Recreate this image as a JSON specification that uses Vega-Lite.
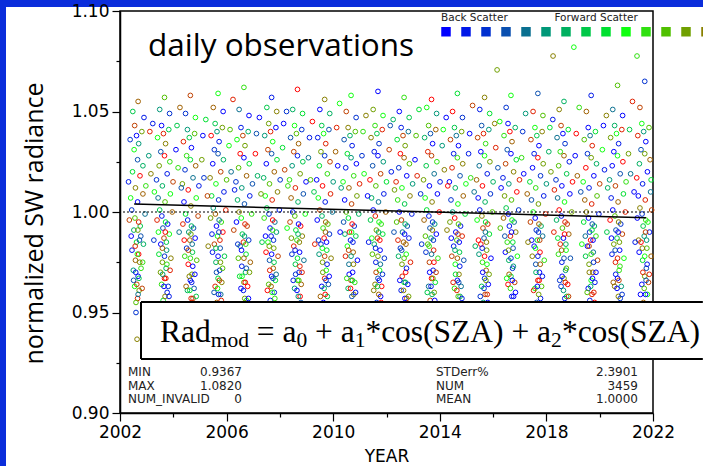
{
  "$schema": "https://vega.github.io/schema/vega-lite/v6.json",
  "background": "white",
  "padding": 0,
  "spacing": 0,
  "bounds": "flush",
  "config": {
    "view": {"stroke": null},
    "axis": {"grid": false, "labelFont": "DejaVu Sans", "labelFontSize": 17, "labelColor": "black", "tickColor": "black", "domainColor": "black", "titleColor": "black", "domainWidth": 1.5, "tickWidth": 1.2, "labelPadding": 3}
  },
  "vconcat": [
    {
      "width": 703, "height": 7,
      "view": {"fill": "#0b2ddb", "stroke": null},
      "data": {"values": [{}]},
      "mark": {"type": "point", "opacity": 0},
      "encoding": {}
    },
    {
      "spacing": 114,
      "bounds": "flush",
      "hconcat": [
        {
          "width": 6, "height": 459,
          "view": {"fill": "#0b2ddb", "stroke": null},
          "data": {"values": [{}]},
          "mark": {"type": "point", "opacity": 0},
          "encoding": {}
        },
        {
          "spacing": 3,
          "bounds": "flush",
          "vconcat": [
            {
              "width": 1, "height": 1,
              "data": {"values": [{}]},
              "mark": {"type": "point", "opacity": 0},
              "encoding": {}
            },
            {
              "width": 533, "height": 402,
              "view": {"stroke": "black", "strokeWidth": 1.5},
              "layer": [
                {
                  "data": {"values": [
{"year":2002.64,"rad":0.9367,"bin":13},{"year":2002.6,"rad":0.95,"bin":2},{"year":2002.66,"rad":0.957,"bin":16},{"year":2002.55,"rad":0.963,"bin":9},{"year":2002.68,"rad":0.968,"bin":0},{"year":2002.72,"rad":0.961,"bin":12},{"year":2002.5,"rad":0.971,"bin":5},{"year":2002.58,"rad":0.976,"bin":14},{"year":2002.45,"rad":0.981,"bin":1},{"year":2002.62,"rad":0.985,"bin":8},{"year":2002.7,"rad":0.979,"bin":17},{"year":2002.78,"rad":0.988,"bin":3},{"year":2002.85,"rad":0.975,"bin":10},{"year":2002.52,"rad":0.991,"bin":6},{"year":2002.35,"rad":0.996,"bin":15},{"year":2002.44,"rad":1.001,"bin":2},{"year":2002.56,"rad":0.997,"bin":11},{"year":2002.66,"rad":1.005,"bin":0},{"year":2002.76,"rad":0.993,"bin":7},{"year":2002.86,"rad":1.009,"bin":14},{"year":2002.94,"rad":0.999,"bin":4},{"year":2002.4,"rad":1.007,"bin":9},{"year":2002.7,"rad":0.995,"bin":16},{"year":2002.32,"rad":1.015,"bin":1},{"year":2002.47,"rad":1.02,"bin":8},{"year":2002.58,"rad":1.012,"bin":13},{"year":2002.66,"rad":1.026,"bin":3},{"year":2002.75,"rad":1.018,"bin":17},{"year":2002.86,"rad":1.023,"bin":6},{"year":2002.97,"rad":1.013,"bin":10},{"year":2002.53,"rad":1.031,"bin":9},{"year":2002.38,"rad":1.036,"bin":2},{"year":2002.55,"rad":1.043,"bin":15},{"year":2002.7,"rad":1.034,"bin":5},{"year":2002.82,"rad":1.04,"bin":12},{"year":2002.62,"rad":1.038,"bin":0},{"year":2002.48,"rad":1.05,"bin":7},{"year":2002.68,"rad":1.055,"bin":14},{"year":2002.9,"rad":1.047,"bin":1},
{"year":2002.6,"rad":0.955,"bin":11},{"year":2002.68,"rad":0.959,"bin":4},{"year":2002.63,"rad":0.964,"bin":15},{"year":2002.71,"rad":0.967,"bin":7},{"year":2002.59,"rad":0.97,"bin":1},{"year":2002.74,"rad":0.975,"bin":13},{"year":2002.65,"rad":0.979,"bin":9},{"year":2002.57,"rad":0.983,"bin":16},{"year":2002.73,"rad":0.986,"bin":3},{"year":2002.67,"rad":0.991,"bin":12},
{"year":2002.51,"rad":0.966,"bin":3},{"year":2002.79,"rad":0.972,"bin":10},{"year":2002.83,"rad":0.962,"bin":15},{"year":2002.42,"rad":0.988,"bin":0},{"year":2002.88,"rad":0.984,"bin":6},
{"year":2003.63,"rad":0.947,"bin":4},{"year":2003.71,"rad":0.953,"bin":14},{"year":2003.77,"rad":0.96,"bin":1},{"year":2003.56,"rad":0.964,"bin":10},{"year":2003.67,"rad":0.967,"bin":17},{"year":2003.73,"rad":0.972,"bin":6},{"year":2003.81,"rad":0.963,"bin":2},{"year":2003.59,"rad":0.975,"bin":12},{"year":2003.46,"rad":0.979,"bin":8},{"year":2003.53,"rad":0.984,"bin":0},{"year":2003.65,"rad":0.987,"bin":15},{"year":2003.75,"rad":0.981,"bin":5},{"year":2003.85,"rad":0.989,"bin":9},{"year":2003.91,"rad":0.977,"bin":13},{"year":2003.61,"rad":0.992,"bin":3},{"year":2003.39,"rad":0.996,"bin":16},{"year":2003.49,"rad":1.001,"bin":7},{"year":2003.57,"rad":0.998,"bin":1},{"year":2003.69,"rad":1.005,"bin":11},{"year":2003.79,"rad":0.994,"bin":0},{"year":2003.89,"rad":1.009,"bin":9},{"year":2003.96,"rad":1.0,"bin":14},{"year":2003.43,"rad":1.007,"bin":4},{"year":2003.71,"rad":0.995,"bin":8},{"year":2003.37,"rad":1.016,"bin":2},{"year":2003.47,"rad":1.023,"bin":12},{"year":2003.59,"rad":1.013,"bin":6},{"year":2003.67,"rad":1.028,"bin":17},{"year":2003.77,"rad":1.019,"bin":1},{"year":2003.87,"rad":1.025,"bin":10},{"year":2003.99,"rad":1.015,"bin":15},{"year":2003.53,"rad":1.03,"bin":3},{"year":2003.41,"rad":1.037,"bin":9},{"year":2003.56,"rad":1.043,"bin":0},{"year":2003.71,"rad":1.034,"bin":13},{"year":2003.83,"rad":1.041,"bin":7},{"year":2003.63,"rad":1.039,"bin":16},{"year":2003.49,"rad":1.051,"bin":5},{"year":2003.67,"rad":1.057,"bin":11},{"year":2003.86,"rad":1.049,"bin":2},
{"year":2003.08,"rad":1.028,"bin":5},{"year":2003.16,"rad":1.019,"bin":13},{"year":2003.23,"rad":1.044,"bin":1},{"year":2003.29,"rad":1.01,"bin":9},{"year":2003.12,"rad":1.04,"bin":16},
{"year":2003.62,"rad":0.956,"bin":8},{"year":2003.69,"rad":0.958,"bin":13},{"year":2003.65,"rad":0.963,"bin":0},{"year":2003.72,"rad":0.967,"bin":16},{"year":2003.6,"rad":0.969,"bin":5},{"year":2003.76,"rad":0.974,"bin":10},{"year":2003.67,"rad":0.978,"bin":2},{"year":2003.59,"rad":0.982,"bin":14},{"year":2003.74,"rad":0.985,"bin":7},{"year":2003.7,"rad":0.99,"bin":17},
{"year":2003.52,"rad":0.97,"bin":12},{"year":2003.84,"rad":0.958,"bin":1},{"year":2003.88,"rad":0.971,"bin":16},{"year":2003.44,"rad":0.99,"bin":9},{"year":2003.27,"rad":0.986,"bin":2},
{"year":2004.6,"rad":0.943,"bin":9},{"year":2004.68,"rad":0.951,"bin":1},{"year":2004.74,"rad":0.957,"bin":15},{"year":2004.53,"rad":0.961,"bin":6},{"year":2004.64,"rad":0.966,"bin":0},{"year":2004.7,"rad":0.969,"bin":12},{"year":2004.78,"rad":0.962,"bin":3},{"year":2004.56,"rad":0.974,"bin":17},{"year":2004.43,"rad":0.978,"bin":10},{"year":2004.5,"rad":0.982,"bin":2},{"year":2004.62,"rad":0.986,"bin":14},{"year":2004.72,"rad":0.98,"bin":7},{"year":2004.82,"rad":0.987,"bin":0},{"year":2004.88,"rad":0.976,"bin":11},{"year":2004.58,"rad":0.99,"bin":5},{"year":2004.36,"rad":0.994,"bin":16},{"year":2004.46,"rad":0.999,"bin":8},{"year":2004.54,"rad":0.996,"bin":1},{"year":2004.66,"rad":1.003,"bin":13},{"year":2004.76,"rad":0.992,"bin":3},{"year":2004.86,"rad":1.007,"bin":9},{"year":2004.93,"rad":0.998,"bin":15},{"year":2004.4,"rad":1.005,"bin":0},{"year":2004.68,"rad":0.993,"bin":6},{"year":2004.34,"rad":1.014,"bin":12},{"year":2004.44,"rad":1.021,"bin":2},{"year":2004.56,"rad":1.011,"bin":17},{"year":2004.64,"rad":1.026,"bin":8},{"year":2004.74,"rad":1.017,"bin":4},{"year":2004.84,"rad":1.023,"bin":14},{"year":2004.96,"rad":1.013,"bin":1},{"year":2004.5,"rad":1.028,"bin":10},{"year":2004.38,"rad":1.035,"bin":16},{"year":2004.53,"rad":1.041,"bin":5},{"year":2004.68,"rad":1.032,"bin":0},{"year":2004.8,"rad":1.039,"bin":11},{"year":2004.6,"rad":1.037,"bin":7},{"year":2004.46,"rad":1.049,"bin":2},{"year":2004.64,"rad":1.058,"bin":15},{"year":2004.83,"rad":1.047,"bin":9},
{"year":2004.1,"rad":1.031,"bin":0},{"year":2004.18,"rad":1.022,"bin":10},{"year":2004.25,"rad":1.052,"bin":14},{"year":2004.3,"rad":1.012,"bin":3},{"year":2004.14,"rad":1.043,"bin":7},
{"year":2004.59,"rad":0.954,"bin":3},{"year":2004.67,"rad":0.957,"bin":16},{"year":2004.62,"rad":0.961,"bin":8},{"year":2004.69,"rad":0.965,"bin":1},{"year":2004.6,"rad":0.968,"bin":13},{"year":2004.73,"rad":0.973,"bin":0},{"year":2004.64,"rad":0.977,"bin":10},{"year":2004.56,"rad":0.981,"bin":15},{"year":2004.71,"rad":0.984,"bin":4},{"year":2004.66,"rad":0.989,"bin":12},
{"year":2004.48,"rad":0.963,"bin":14},{"year":2004.81,"rad":0.969,"bin":0},{"year":2004.86,"rad":0.958,"bin":7},{"year":2004.41,"rad":0.986,"bin":17},{"year":2004.22,"rad":0.99,"bin":4},
{"year":2005.64,"rad":0.946,"bin":0},{"year":2005.72,"rad":0.954,"bin":11},{"year":2005.78,"rad":0.959,"bin":4},{"year":2005.57,"rad":0.963,"bin":16},{"year":2005.68,"rad":0.967,"bin":8},{"year":2005.74,"rad":0.971,"bin":2},{"year":2005.82,"rad":0.965,"bin":13},{"year":2005.6,"rad":0.975,"bin":6},{"year":2005.47,"rad":0.98,"bin":1},{"year":2005.54,"rad":0.984,"bin":15},{"year":2005.66,"rad":0.988,"bin":9},{"year":2005.76,"rad":0.982,"bin":3},{"year":2005.86,"rad":0.99,"bin":17},{"year":2005.92,"rad":0.978,"bin":7},{"year":2005.62,"rad":0.993,"bin":0},{"year":2005.4,"rad":0.997,"bin":12},{"year":2005.5,"rad":1.002,"bin":5},{"year":2005.58,"rad":0.999,"bin":14},{"year":2005.7,"rad":1.006,"bin":2},{"year":2005.8,"rad":0.995,"bin":10},{"year":2005.9,"rad":1.01,"bin":1},{"year":2005.97,"rad":1.001,"bin":16},{"year":2005.44,"rad":1.008,"bin":8},{"year":2005.72,"rad":0.996,"bin":4},{"year":2005.38,"rad":1.017,"bin":13},{"year":2005.48,"rad":1.024,"bin":0},{"year":2005.6,"rad":1.014,"bin":9},{"year":2005.68,"rad":1.029,"bin":3},{"year":2005.78,"rad":1.02,"bin":15},{"year":2005.88,"rad":1.026,"bin":6},{"year":2006.0,"rad":1.016,"bin":11},{"year":2005.54,"rad":1.031,"bin":2},{"year":2005.42,"rad":1.038,"bin":17},{"year":2005.57,"rad":1.044,"bin":7},{"year":2005.72,"rad":1.035,"bin":1},{"year":2005.84,"rad":1.042,"bin":12},{"year":2005.64,"rad":1.04,"bin":5},{"year":2005.5,"rad":1.052,"bin":14},{"year":2005.68,"rad":1.059,"bin":9},{"year":2005.87,"rad":1.05,"bin":0},
{"year":2005.07,"rad":1.026,"bin":12},{"year":2005.15,"rad":1.017,"bin":2},{"year":2005.22,"rad":1.046,"bin":8},{"year":2005.28,"rad":1.008,"bin":15},{"year":2005.11,"rad":1.038,"bin":0},
{"year":2005.63,"rad":0.955,"bin":14},{"year":2005.7,"rad":0.959,"bin":1},{"year":2005.66,"rad":0.962,"bin":9},{"year":2005.73,"rad":0.966,"bin":15},{"year":2005.62,"rad":0.97,"bin":3},{"year":2005.77,"rad":0.975,"bin":12},{"year":2005.68,"rad":0.978,"bin":0},{"year":2005.6,"rad":0.982,"bin":7},{"year":2005.75,"rad":0.986,"bin":16},{"year":2005.71,"rad":0.99,"bin":2},
{"year":2005.53,"rad":0.96,"bin":3},{"year":2005.85,"rad":0.972,"bin":11},{"year":2005.8,"rad":0.956,"bin":16},{"year":2005.45,"rad":0.989,"bin":1},{"year":2005.31,"rad":0.983,"bin":13},
{"year":2006.61,"rad":0.944,"bin":15},{"year":2006.69,"rad":0.95,"bin":3},{"year":2006.75,"rad":0.956,"bin":9},{"year":2006.54,"rad":0.962,"bin":0},{"year":2006.65,"rad":0.965,"bin":12},{"year":2006.71,"rad":0.97,"bin":6},{"year":2006.79,"rad":0.963,"bin":17},{"year":2006.57,"rad":0.973,"bin":1},{"year":2006.44,"rad":0.977,"bin":11},{"year":2006.51,"rad":0.983,"bin":4},{"year":2006.63,"rad":0.985,"bin":16},{"year":2006.73,"rad":0.979,"bin":8},{"year":2006.83,"rad":0.986,"bin":2},{"year":2006.89,"rad":0.975,"bin":14},{"year":2006.59,"rad":0.989,"bin":7},{"year":2006.37,"rad":0.995,"bin":0},{"year":2006.47,"rad":1.0,"bin":13},{"year":2006.55,"rad":0.997,"bin":9},{"year":2006.67,"rad":1.004,"bin":3},{"year":2006.77,"rad":0.993,"bin":15},{"year":2006.87,"rad":1.008,"bin":1},{"year":2006.94,"rad":0.999,"bin":10},{"year":2006.41,"rad":1.006,"bin":6},{"year":2006.69,"rad":0.994,"bin":16},{"year":2006.35,"rad":1.015,"bin":2},{"year":2006.45,"rad":1.022,"bin":11},{"year":2006.57,"rad":1.012,"bin":5},{"year":2006.65,"rad":1.027,"bin":0},{"year":2006.75,"rad":1.018,"bin":14},{"year":2006.85,"rad":1.024,"bin":8},{"year":2006.97,"rad":1.014,"bin":3},{"year":2006.51,"rad":1.029,"bin":17},{"year":2006.39,"rad":1.036,"bin":9},{"year":2006.54,"rad":1.042,"bin":1},{"year":2006.69,"rad":1.033,"bin":12},{"year":2006.81,"rad":1.04,"bin":6},{"year":2006.61,"rad":1.038,"bin":15},{"year":2006.47,"rad":1.051,"bin":4},{"year":2006.65,"rad":1.062,"bin":10},{"year":2006.84,"rad":1.048,"bin":0},
{"year":2006.09,"rad":1.033,"bin":9},{"year":2006.17,"rad":1.02,"bin":4},{"year":2006.24,"rad":1.056,"bin":16},{"year":2006.3,"rad":1.011,"bin":1},{"year":2006.13,"rad":1.041,"bin":11},
{"year":2006.6,"rad":0.953,"bin":6},{"year":2006.68,"rad":0.957,"bin":12},{"year":2006.63,"rad":0.961,"bin":1},{"year":2006.7,"rad":0.965,"bin":17},{"year":2006.58,"rad":0.968,"bin":9},{"year":2006.74,"rad":0.972,"bin":3},{"year":2006.65,"rad":0.977,"bin":14},{"year":2006.56,"rad":0.981,"bin":0},{"year":2006.72,"rad":0.984,"bin":10},{"year":2006.67,"rad":0.988,"bin":5},
{"year":2006.49,"rad":0.968,"bin":8},{"year":2006.82,"rad":0.957,"bin":0},{"year":2006.86,"rad":0.97,"bin":12},{"year":2006.42,"rad":0.984,"bin":2},{"year":2006.27,"rad":0.991,"bin":15},
{"year":2007.65,"rad":0.948,"bin":6},{"year":2007.73,"rad":0.953,"bin":16},{"year":2007.79,"rad":0.96,"bin":2},{"year":2007.58,"rad":0.964,"bin":11},{"year":2007.69,"rad":0.968,"bin":0},{"year":2007.75,"rad":0.972,"bin":14},{"year":2007.83,"rad":0.966,"bin":8},{"year":2007.61,"rad":0.976,"bin":3},{"year":2007.48,"rad":0.98,"bin":17},{"year":2007.55,"rad":0.985,"bin":9},{"year":2007.67,"rad":0.988,"bin":1},{"year":2007.77,"rad":0.982,"bin":12},{"year":2007.87,"rad":0.99,"bin":5},{"year":2007.93,"rad":0.978,"bin":15},{"year":2007.63,"rad":0.992,"bin":0},{"year":2007.41,"rad":0.997,"bin":10},{"year":2007.51,"rad":1.002,"bin":7},{"year":2007.59,"rad":0.999,"bin":2},{"year":2007.71,"rad":1.006,"bin":16},{"year":2007.81,"rad":0.995,"bin":4},{"year":2007.91,"rad":1.01,"bin":13},{"year":2007.98,"rad":1.001,"bin":1},{"year":2007.45,"rad":1.008,"bin":9},{"year":2007.73,"rad":0.996,"bin":17},{"year":2007.39,"rad":1.017,"bin":6},{"year":2007.49,"rad":1.024,"bin":0},{"year":2007.61,"rad":1.014,"bin":11},{"year":2007.69,"rad":1.029,"bin":3},{"year":2007.79,"rad":1.02,"bin":14},{"year":2007.89,"rad":1.026,"bin":8},{"year":2008.01,"rad":1.016,"bin":2},{"year":2007.55,"rad":1.031,"bin":15},{"year":2007.43,"rad":1.038,"bin":5},{"year":2007.58,"rad":1.044,"bin":12},{"year":2007.73,"rad":1.035,"bin":9},{"year":2007.85,"rad":1.042,"bin":0},{"year":2007.65,"rad":1.04,"bin":16},{"year":2007.51,"rad":1.052,"bin":7},{"year":2007.69,"rad":1.057,"bin":1},{"year":2007.88,"rad":1.05,"bin":13},
{"year":2007.08,"rad":1.029,"bin":17},{"year":2007.16,"rad":1.018,"bin":6},{"year":2007.23,"rad":1.047,"bin":0},{"year":2007.29,"rad":1.009,"bin":12},{"year":2007.12,"rad":1.039,"bin":3},
{"year":2007.64,"rad":0.956,"bin":1},{"year":2007.71,"rad":0.96,"bin":9},{"year":2007.67,"rad":0.963,"bin":14},{"year":2007.74,"rad":0.967,"bin":3},{"year":2007.62,"rad":0.971,"bin":16},{"year":2007.78,"rad":0.975,"bin":7},{"year":2007.69,"rad":0.979,"bin":0},{"year":2007.6,"rad":0.983,"bin":12},{"year":2007.76,"rad":0.986,"bin":2},{"year":2007.72,"rad":0.991,"bin":10},
{"year":2007.53,"rad":0.961,"bin":17},{"year":2007.86,"rad":0.969,"bin":4},{"year":2007.81,"rad":0.957,"bin":10},{"year":2007.46,"rad":0.988,"bin":0},{"year":2007.33,"rad":0.985,"bin":7},
{"year":2008.62,"rad":0.945,"bin":12},{"year":2008.7,"rad":0.951,"bin":0},{"year":2008.76,"rad":0.958,"bin":17},{"year":2008.55,"rad":0.962,"bin":5},{"year":2008.66,"rad":0.966,"bin":9},{"year":2008.72,"rad":0.97,"bin":1},{"year":2008.8,"rad":0.964,"bin":14},{"year":2008.58,"rad":0.974,"bin":7},{"year":2008.45,"rad":0.979,"bin":2},{"year":2008.52,"rad":0.983,"bin":16},{"year":2008.64,"rad":0.986,"bin":10},{"year":2008.74,"rad":0.98,"bin":0},{"year":2008.84,"rad":0.988,"bin":13},{"year":2008.9,"rad":0.976,"bin":4},{"year":2008.6,"rad":0.991,"bin":8},{"year":2008.38,"rad":0.995,"bin":15},{"year":2008.48,"rad":1.0,"bin":1},{"year":2008.56,"rad":0.998,"bin":11},{"year":2008.68,"rad":1.005,"bin":6},{"year":2008.78,"rad":0.993,"bin":17},{"year":2008.88,"rad":1.009,"bin":3},{"year":2008.95,"rad":0.999,"bin":9},{"year":2008.42,"rad":1.007,"bin":14},{"year":2008.7,"rad":0.994,"bin":0},{"year":2008.36,"rad":1.016,"bin":10},{"year":2008.46,"rad":1.023,"bin":5},{"year":2008.58,"rad":1.012,"bin":16},{"year":2008.66,"rad":1.028,"bin":1},{"year":2008.76,"rad":1.019,"bin":12},{"year":2008.86,"rad":1.025,"bin":7},{"year":2008.98,"rad":1.015,"bin":0},{"year":2008.52,"rad":1.03,"bin":15},{"year":2008.4,"rad":1.037,"bin":3},{"year":2008.55,"rad":1.043,"bin":9},{"year":2008.7,"rad":1.034,"bin":14},{"year":2008.82,"rad":1.041,"bin":2},{"year":2008.62,"rad":1.039,"bin":11},{"year":2008.48,"rad":1.051,"bin":6},{"year":2008.66,"rad":1.061,"bin":17},{"year":2008.85,"rad":1.049,"bin":8},
{"year":2008.1,"rad":1.032,"bin":8},{"year":2008.18,"rad":1.021,"bin":15},{"year":2008.25,"rad":1.05,"bin":2},{"year":2008.3,"rad":1.013,"bin":10},{"year":2008.14,"rad":1.044,"bin":0},
{"year":2008.61,"rad":0.954,"bin":15},{"year":2008.69,"rad":0.958,"bin":5},{"year":2008.64,"rad":0.961,"bin":0},{"year":2008.71,"rad":0.966,"bin":11},{"year":2008.59,"rad":0.969,"bin":2},{"year":2008.75,"rad":0.973,"bin":16},{"year":2008.66,"rad":0.977,"bin":8},{"year":2008.57,"rad":0.981,"bin":1},{"year":2008.73,"rad":0.985,"bin":13},{"year":2008.68,"rad":0.989,"bin":6},
{"year":2008.5,"rad":0.966,"bin":1},{"year":2008.83,"rad":0.97,"bin":16},{"year":2008.79,"rad":0.955,"bin":3},{"year":2008.43,"rad":0.987,"bin":12},{"year":2008.27,"rad":0.992,"bin":9},
{"year":2009.64,"rad":0.943,"bin":1},{"year":2009.72,"rad":0.952,"bin":14},{"year":2009.78,"rad":0.958,"bin":7},{"year":2009.57,"rad":0.963,"bin":0},{"year":2009.68,"rad":0.967,"bin":16},{"year":2009.74,"rad":0.971,"bin":9},{"year":2009.82,"rad":0.964,"bin":3},{"year":2009.6,"rad":0.975,"bin":12},{"year":2009.47,"rad":0.979,"bin":5},{"year":2009.54,"rad":0.984,"bin":1},{"year":2009.66,"rad":0.987,"bin":17},{"year":2009.76,"rad":0.981,"bin":8},{"year":2009.86,"rad":0.989,"bin":2},{"year":2009.92,"rad":0.977,"bin":13},{"year":2009.62,"rad":0.992,"bin":10},{"year":2009.4,"rad":0.996,"bin":0},{"year":2009.5,"rad":1.001,"bin":15},{"year":2009.58,"rad":0.998,"bin":6},{"year":2009.7,"rad":1.005,"bin":1},{"year":2009.8,"rad":0.994,"bin":11},{"year":2009.9,"rad":1.009,"bin":16},{"year":2009.97,"rad":1.0,"bin":4},{"year":2009.44,"rad":1.007,"bin":9},{"year":2009.72,"rad":0.995,"bin":14},{"year":2009.38,"rad":1.016,"bin":0},{"year":2009.48,"rad":1.023,"bin":8},{"year":2009.6,"rad":1.013,"bin":17},{"year":2009.68,"rad":1.028,"bin":2},{"year":2009.78,"rad":1.019,"bin":10},{"year":2009.88,"rad":1.025,"bin":15},{"year":2010.0,"rad":1.015,"bin":5},{"year":2009.54,"rad":1.03,"bin":12},{"year":2009.42,"rad":1.037,"bin":1},{"year":2009.57,"rad":1.043,"bin":7},{"year":2009.72,"rad":1.034,"bin":16},{"year":2009.84,"rad":1.041,"bin":3},{"year":2009.64,"rad":1.039,"bin":9},{"year":2009.5,"rad":1.051,"bin":0},{"year":2009.68,"rad":1.056,"bin":13},{"year":2009.87,"rad":1.049,"bin":6},
{"year":2009.07,"rad":1.027,"bin":4},{"year":2009.15,"rad":1.016,"bin":11},{"year":2009.22,"rad":1.045,"bin":17},{"year":2009.28,"rad":1.01,"bin":7},{"year":2009.11,"rad":1.037,"bin":1},
{"year":2009.63,"rad":0.955,"bin":0},{"year":2009.7,"rad":0.959,"bin":17},{"year":2009.66,"rad":0.962,"bin":6},{"year":2009.73,"rad":0.966,"bin":2},{"year":2009.61,"rad":0.97,"bin":12},{"year":2009.77,"rad":0.974,"bin":1},{"year":2009.68,"rad":0.978,"bin":15},{"year":2009.59,"rad":0.982,"bin":9},{"year":2009.75,"rad":0.985,"bin":0},{"year":2009.71,"rad":0.99,"bin":14},
{"year":2009.52,"rad":0.958,"bin":14},{"year":2009.85,"rad":0.968,"bin":0},{"year":2009.8,"rad":0.953,"bin":8},{"year":2009.45,"rad":0.986,"bin":2},{"year":2009.31,"rad":0.984,"bin":16},
{"year":2010.63,"rad":0.946,"bin":8},{"year":2010.71,"rad":0.953,"bin":2},{"year":2010.77,"rad":0.959,"bin":13},{"year":2010.56,"rad":0.962,"bin":6},{"year":2010.67,"rad":0.966,"bin":15},{"year":2010.73,"rad":0.97,"bin":0},{"year":2010.81,"rad":0.965,"bin":10},{"year":2010.59,"rad":0.974,"bin":4},{"year":2010.46,"rad":0.978,"bin":16},{"year":2010.53,"rad":0.983,"bin":9},{"year":2010.65,"rad":0.986,"bin":1},{"year":2010.75,"rad":0.98,"bin":14},{"year":2010.85,"rad":0.988,"bin":7},{"year":2010.91,"rad":0.976,"bin":0},{"year":2010.61,"rad":0.99,"bin":17},{"year":2010.39,"rad":0.995,"bin":3},{"year":2010.49,"rad":1.0,"bin":11},{"year":2010.57,"rad":0.997,"bin":8},{"year":2010.69,"rad":1.004,"bin":15},{"year":2010.79,"rad":0.993,"bin":2},{"year":2010.89,"rad":1.008,"bin":12},{"year":2010.96,"rad":0.999,"bin":6},{"year":2010.43,"rad":1.006,"bin":0},{"year":2010.71,"rad":0.994,"bin":17},{"year":2010.37,"rad":1.015,"bin":9},{"year":2010.47,"rad":1.022,"bin":1},{"year":2010.59,"rad":1.012,"bin":14},{"year":2010.67,"rad":1.027,"bin":5},{"year":2010.77,"rad":1.018,"bin":10},{"year":2010.87,"rad":1.024,"bin":0},{"year":2010.99,"rad":1.014,"bin":16},{"year":2010.53,"rad":1.029,"bin":8},{"year":2010.41,"rad":1.036,"bin":3},{"year":2010.56,"rad":1.042,"bin":13},{"year":2010.71,"rad":1.033,"bin":1},{"year":2010.83,"rad":1.04,"bin":11},{"year":2010.63,"rad":1.038,"bin":6},{"year":2010.49,"rad":1.05,"bin":15},{"year":2010.67,"rad":1.058,"bin":9},{"year":2010.86,"rad":1.047,"bin":2},
{"year":2010.09,"rad":1.03,"bin":14},{"year":2010.17,"rad":1.023,"bin":0},{"year":2010.24,"rad":1.054,"bin":9},{"year":2010.3,"rad":1.012,"bin":5},{"year":2010.13,"rad":1.042,"bin":16},
{"year":2010.62,"rad":0.954,"bin":12},{"year":2010.7,"rad":0.958,"bin":3},{"year":2010.65,"rad":0.962,"bin":17},{"year":2010.72,"rad":0.966,"bin":8},{"year":2010.6,"rad":0.969,"bin":0},{"year":2010.76,"rad":0.974,"bin":13},{"year":2010.67,"rad":0.978,"bin":5},{"year":2010.58,"rad":0.981,"bin":15},{"year":2010.74,"rad":0.985,"bin":1},{"year":2010.69,"rad":0.99,"bin":9},
{"year":2010.51,"rad":0.967,"bin":10},{"year":2010.84,"rad":0.96,"bin":1},{"year":2010.79,"rad":0.951,"bin":15},{"year":2010.44,"rad":0.989,"bin":6},{"year":2010.26,"rad":0.99,"bin":0},
{"year":2011.64,"rad":0.947,"bin":16},{"year":2011.72,"rad":0.952,"bin":5},{"year":2011.78,"rad":0.958,"bin":0},{"year":2011.57,"rad":0.964,"bin":13},{"year":2011.68,"rad":0.967,"bin":3},{"year":2011.74,"rad":0.971,"bin":9},{"year":2011.82,"rad":0.963,"bin":17},{"year":2011.6,"rad":0.975,"bin":1},{"year":2011.47,"rad":0.979,"bin":11},{"year":2011.54,"rad":0.984,"bin":6},{"year":2011.66,"rad":0.987,"bin":15},{"year":2011.76,"rad":0.981,"bin":0},{"year":2011.86,"rad":0.989,"bin":8},{"year":2011.92,"rad":0.977,"bin":2},{"year":2011.62,"rad":0.991,"bin":12},{"year":2011.4,"rad":0.996,"bin":7},{"year":2011.5,"rad":1.001,"bin":0},{"year":2011.58,"rad":0.998,"bin":16},{"year":2011.7,"rad":1.005,"bin":4},{"year":2011.8,"rad":0.994,"bin":10},{"year":2011.9,"rad":1.009,"bin":1},{"year":2011.97,"rad":1.0,"bin":14},{"year":2011.44,"rad":1.007,"bin":6},{"year":2011.72,"rad":0.995,"bin":9},{"year":2011.38,"rad":1.016,"bin":17},{"year":2011.48,"rad":1.023,"bin":3},{"year":2011.6,"rad":1.013,"bin":11},{"year":2011.68,"rad":1.028,"bin":0},{"year":2011.78,"rad":1.019,"bin":15},{"year":2011.88,"rad":1.025,"bin":5},{"year":2012.0,"rad":1.015,"bin":8},{"year":2011.54,"rad":1.03,"bin":1},{"year":2011.42,"rad":1.037,"bin":13},{"year":2011.57,"rad":1.043,"bin":10},{"year":2011.72,"rad":1.034,"bin":2},{"year":2011.84,"rad":1.041,"bin":16},{"year":2011.64,"rad":1.039,"bin":7},{"year":2011.5,"rad":1.051,"bin":12},{"year":2011.68,"rad":1.06,"bin":0},{"year":2011.87,"rad":1.048,"bin":9},
{"year":2011.08,"rad":1.028,"bin":2},{"year":2011.16,"rad":1.019,"bin":9},{"year":2011.23,"rad":1.048,"bin":13},{"year":2011.29,"rad":1.008,"bin":0},{"year":2011.12,"rad":1.04,"bin":10},
{"year":2011.63,"rad":0.955,"bin":2},{"year":2011.71,"rad":0.959,"bin":14},{"year":2011.66,"rad":0.963,"bin":7},{"year":2011.73,"rad":0.966,"bin":0},{"year":2011.61,"rad":0.97,"bin":15},{"year":2011.77,"rad":0.974,"bin":4},{"year":2011.68,"rad":0.978,"bin":12},{"year":2011.59,"rad":0.982,"bin":1},{"year":2011.75,"rad":0.986,"bin":17},{"year":2011.7,"rad":0.99,"bin":6},
{"year":2011.52,"rad":0.961,"bin":13},{"year":2011.85,"rad":0.969,"bin":2},{"year":2011.8,"rad":0.955,"bin":17},{"year":2011.45,"rad":0.987,"bin":9},{"year":2011.33,"rad":0.985,"bin":1},
{"year":2012.62,"rad":0.944,"bin":3},{"year":2012.7,"rad":0.95,"bin":10},{"year":2012.76,"rad":0.957,"bin":15},{"year":2012.55,"rad":0.961,"bin":1},{"year":2012.66,"rad":0.965,"bin":8},{"year":2012.72,"rad":0.97,"bin":17},{"year":2012.8,"rad":0.964,"bin":0},{"year":2012.58,"rad":0.974,"bin":12},{"year":2012.45,"rad":0.978,"bin":6},{"year":2012.52,"rad":0.982,"bin":2},{"year":2012.64,"rad":0.985,"bin":14},{"year":2012.74,"rad":0.979,"bin":9},{"year":2012.84,"rad":0.987,"bin":1},{"year":2012.9,"rad":0.975,"bin":16},{"year":2012.6,"rad":0.99,"bin":4},{"year":2012.38,"rad":0.995,"bin":11},{"year":2012.48,"rad":1.0,"bin":0},{"year":2012.56,"rad":0.996,"bin":15},{"year":2012.68,"rad":1.004,"bin":7},{"year":2012.78,"rad":0.993,"bin":3},{"year":2012.88,"rad":1.008,"bin":13},{"year":2012.95,"rad":0.999,"bin":1},{"year":2012.42,"rad":1.006,"bin":10},{"year":2012.7,"rad":0.994,"bin":6},{"year":2012.36,"rad":1.015,"bin":16},{"year":2012.46,"rad":1.022,"bin":2},{"year":2012.58,"rad":1.012,"bin":9},{"year":2012.66,"rad":1.027,"bin":14},{"year":2012.76,"rad":1.018,"bin":0},{"year":2012.86,"rad":1.024,"bin":11},{"year":2012.98,"rad":1.014,"bin":5},{"year":2012.52,"rad":1.029,"bin":17},{"year":2012.4,"rad":1.036,"bin":8},{"year":2012.55,"rad":1.042,"bin":1},{"year":2012.7,"rad":1.033,"bin":12},{"year":2012.82,"rad":1.04,"bin":4},{"year":2012.62,"rad":1.038,"bin":15},{"year":2012.48,"rad":1.05,"bin":0},{"year":2012.66,"rad":1.057,"bin":10},{"year":2012.85,"rad":1.047,"bin":7},
{"year":2012.1,"rad":1.031,"bin":15},{"year":2012.18,"rad":1.02,"bin":1},{"year":2012.25,"rad":1.046,"bin":6},{"year":2012.3,"rad":1.011,"bin":12},{"year":2012.14,"rad":1.043,"bin":3},
{"year":2012.61,"rad":0.953,"bin":9},{"year":2012.69,"rad":0.957,"bin":0},{"year":2012.64,"rad":0.961,"bin":13},{"year":2012.71,"rad":0.965,"bin":5},{"year":2012.59,"rad":0.968,"bin":16},{"year":2012.75,"rad":0.972,"bin":1},{"year":2012.66,"rad":0.977,"bin":11},{"year":2012.57,"rad":0.981,"bin":3},{"year":2012.73,"rad":0.984,"bin":14},{"year":2012.68,"rad":0.989,"bin":0},
{"year":2012.5,"rad":0.966,"bin":0},{"year":2012.83,"rad":0.958,"bin":12},{"year":2012.78,"rad":0.95,"bin":5},{"year":2012.43,"rad":0.986,"bin":16},{"year":2012.28,"rad":0.99,"bin":3},
{"year":2013.65,"rad":0.945,"bin":9},{"year":2013.73,"rad":0.953,"bin":0},{"year":2013.79,"rad":0.96,"bin":12},{"year":2013.58,"rad":0.963,"bin":4},{"year":2013.69,"rad":0.967,"bin":17},{"year":2013.75,"rad":0.971,"bin":1},{"year":2013.83,"rad":0.965,"bin":8},{"year":2013.61,"rad":0.975,"bin":15},{"year":2013.48,"rad":0.98,"bin":2},{"year":2013.55,"rad":0.984,"bin":11},{"year":2013.67,"rad":0.987,"bin":6},{"year":2013.77,"rad":0.981,"bin":16},{"year":2013.87,"rad":0.989,"bin":0},{"year":2013.93,"rad":0.977,"bin":10},{"year":2013.63,"rad":0.992,"bin":3},{"year":2013.41,"rad":0.996,"bin":14},{"year":2013.51,"rad":1.001,"bin":8},{"year":2013.59,"rad":0.998,"bin":1},{"year":2013.71,"rad":1.005,"bin":13},{"year":2013.81,"rad":0.994,"bin":5},{"year":2013.91,"rad":1.009,"bin":0},{"year":2013.98,"rad":1.0,"bin":17},{"year":2013.45,"rad":1.007,"bin":9},{"year":2013.73,"rad":0.995,"bin":2},{"year":2013.39,"rad":1.016,"bin":12},{"year":2013.49,"rad":1.023,"bin":7},{"year":2013.61,"rad":1.013,"bin":0},{"year":2013.69,"rad":1.028,"bin":15},{"year":2013.79,"rad":1.019,"bin":4},{"year":2013.89,"rad":1.025,"bin":10},{"year":2014.01,"rad":1.015,"bin":1},{"year":2013.55,"rad":1.03,"bin":16},{"year":2013.43,"rad":1.037,"bin":6},{"year":2013.58,"rad":1.043,"bin":11},{"year":2013.73,"rad":1.034,"bin":0},{"year":2013.85,"rad":1.041,"bin":14},{"year":2013.65,"rad":1.039,"bin":3},{"year":2013.51,"rad":1.052,"bin":9},{"year":2013.69,"rad":1.056,"bin":17},{"year":2013.88,"rad":1.049,"bin":5},
{"year":2013.07,"rad":1.026,"bin":0},{"year":2013.15,"rad":1.018,"bin":16},{"year":2013.22,"rad":1.051,"bin":8},{"year":2013.28,"rad":1.009,"bin":2},{"year":2013.11,"rad":1.038,"bin":11},
{"year":2013.64,"rad":0.956,"bin":15},{"year":2013.71,"rad":0.959,"bin":6},{"year":2013.67,"rad":0.963,"bin":1},{"year":2013.74,"rad":0.967,"bin":12},{"year":2013.62,"rad":0.97,"bin":0},{"year":2013.78,"rad":0.975,"bin":17},{"year":2013.69,"rad":0.979,"bin":4},{"year":2013.6,"rad":0.983,"bin":10},{"year":2013.76,"rad":0.986,"bin":2},{"year":2013.72,"rad":0.991,"bin":13},
{"year":2013.53,"rad":0.96,"bin":7},{"year":2013.86,"rad":0.97,"bin":15},{"year":2013.81,"rad":0.956,"bin":0},{"year":2013.46,"rad":0.988,"bin":11},{"year":2013.32,"rad":0.984,"bin":2},
{"year":2014.62,"rad":0.946,"bin":2},{"year":2014.7,"rad":0.951,"bin":17},{"year":2014.76,"rad":0.958,"bin":6},{"year":2014.55,"rad":0.962,"bin":10},{"year":2014.66,"rad":0.966,"bin":0},{"year":2014.72,"rad":0.969,"bin":13},{"year":2014.8,"rad":0.963,"bin":4},{"year":2014.58,"rad":0.974,"bin":9},{"year":2014.45,"rad":0.978,"bin":15},{"year":2014.52,"rad":0.983,"bin":1},{"year":2014.64,"rad":0.986,"bin":11},{"year":2014.74,"rad":0.98,"bin":7},{"year":2014.84,"rad":0.988,"bin":16},{"year":2014.9,"rad":0.976,"bin":3},{"year":2014.6,"rad":0.99,"bin":0},{"year":2014.38,"rad":0.995,"bin":12},{"year":2014.48,"rad":1.0,"bin":5},{"year":2014.56,"rad":0.997,"bin":17},{"year":2014.68,"rad":1.004,"bin":9},{"year":2014.78,"rad":0.993,"bin":1},{"year":2014.88,"rad":1.008,"bin":14},{"year":2014.95,"rad":0.999,"bin":8},{"year":2014.42,"rad":1.006,"bin":2},{"year":2014.7,"rad":0.994,"bin":11},{"year":2014.36,"rad":1.015,"bin":0},{"year":2014.46,"rad":1.022,"bin":16},{"year":2014.58,"rad":1.012,"bin":6},{"year":2014.66,"rad":1.027,"bin":10},{"year":2014.76,"rad":1.018,"bin":3},{"year":2014.86,"rad":1.024,"bin":13},{"year":2014.98,"rad":1.014,"bin":9},{"year":2014.52,"rad":1.029,"bin":1},{"year":2014.4,"rad":1.036,"bin":15},{"year":2014.55,"rad":1.042,"bin":7},{"year":2014.7,"rad":1.033,"bin":0},{"year":2014.82,"rad":1.04,"bin":12},{"year":2014.62,"rad":1.038,"bin":4},{"year":2014.48,"rad":1.05,"bin":17},{"year":2014.66,"rad":1.059,"bin":8},{"year":2014.85,"rad":1.047,"bin":2},
{"year":2014.09,"rad":1.033,"bin":5},{"year":2014.17,"rad":1.021,"bin":13},{"year":2014.24,"rad":1.047,"bin":0},{"year":2014.3,"rad":1.013,"bin":17},{"year":2014.13,"rad":1.041,"bin":9},
{"year":2014.61,"rad":0.954,"bin":0},{"year":2014.69,"rad":0.958,"bin":11},{"year":2014.64,"rad":0.961,"bin":16},{"year":2014.71,"rad":0.965,"bin":3},{"year":2014.59,"rad":0.969,"bin":8},{"year":2014.75,"rad":0.973,"bin":1},{"year":2014.66,"rad":0.977,"bin":14},{"year":2014.57,"rad":0.981,"bin":6},{"year":2014.73,"rad":0.985,"bin":0},{"year":2014.68,"rad":0.989,"bin":15},
{"year":2014.5,"rad":0.965,"bin":16},{"year":2014.83,"rad":0.957,"bin":1},{"year":2014.78,"rad":0.952,"bin":9},{"year":2014.43,"rad":0.987,"bin":0},{"year":2014.27,"rad":0.991,"bin":13},
{"year":2015.64,"rad":0.944,"bin":11},{"year":2015.72,"rad":0.953,"bin":1},{"year":2015.78,"rad":0.959,"bin":16},{"year":2015.57,"rad":0.963,"bin":7},{"year":2015.68,"rad":0.967,"bin":2},{"year":2015.74,"rad":0.971,"bin":14},{"year":2015.82,"rad":0.964,"bin":0},{"year":2015.6,"rad":0.975,"bin":10},{"year":2015.47,"rad":0.979,"bin":5},{"year":2015.54,"rad":0.984,"bin":17},{"year":2015.66,"rad":0.987,"bin":3},{"year":2015.76,"rad":0.981,"bin":12},{"year":2015.86,"rad":0.989,"bin":8},{"year":2015.92,"rad":0.977,"bin":0},{"year":2015.62,"rad":0.992,"bin":15},{"year":2015.4,"rad":0.996,"bin":9},{"year":2015.5,"rad":1.001,"bin":1},{"year":2015.58,"rad":0.998,"bin":13},{"year":2015.7,"rad":1.005,"bin":6},{"year":2015.8,"rad":0.994,"bin":16},{"year":2015.9,"rad":1.009,"bin":2},{"year":2015.97,"rad":1.0,"bin":11},{"year":2015.44,"rad":1.007,"bin":0},{"year":2015.72,"rad":0.995,"bin":8},{"year":2015.38,"rad":1.016,"bin":14},{"year":2015.48,"rad":1.023,"bin":4},{"year":2015.6,"rad":1.013,"bin":17},{"year":2015.68,"rad":1.028,"bin":9},{"year":2015.78,"rad":1.019,"bin":1},{"year":2015.88,"rad":1.025,"bin":12},{"year":2016.0,"rad":1.015,"bin":6},{"year":2015.54,"rad":1.03,"bin":0},{"year":2015.42,"rad":1.037,"bin":15},{"year":2015.57,"rad":1.043,"bin":3},{"year":2015.72,"rad":1.034,"bin":10},{"year":2015.84,"rad":1.041,"bin":5},{"year":2015.64,"rad":1.039,"bin":16},{"year":2015.5,"rad":1.051,"bin":1},{"year":2015.68,"rad":1.057,"bin":13},{"year":2015.87,"rad":1.049,"bin":8},
{"year":2015.08,"rad":1.029,"bin":1},{"year":2015.16,"rad":1.017,"bin":10},{"year":2015.23,"rad":1.053,"bin":15},{"year":2015.29,"rad":1.01,"bin":4},{"year":2015.12,"rad":1.039,"bin":0},
{"year":2015.63,"rad":0.955,"bin":5},{"year":2015.7,"rad":0.959,"bin":15},{"year":2015.66,"rad":0.962,"bin":2},{"year":2015.73,"rad":0.966,"bin":12},{"year":2015.61,"rad":0.97,"bin":0},{"year":2015.77,"rad":0.974,"bin":9},{"year":2015.68,"rad":0.978,"bin":17},{"year":2015.59,"rad":0.982,"bin":1},{"year":2015.75,"rad":0.985,"bin":13},{"year":2015.71,"rad":0.99,"bin":4},
{"year":2015.52,"rad":0.958,"bin":2},{"year":2015.85,"rad":0.969,"bin":12},{"year":2015.8,"rad":0.955,"bin":0},{"year":2015.45,"rad":0.986,"bin":17},{"year":2015.33,"rad":0.983,"bin":6},
{"year":2016.63,"rad":0.947,"bin":4},{"year":2016.71,"rad":0.952,"bin":12},{"year":2016.77,"rad":0.958,"bin":0},{"year":2016.56,"rad":0.964,"bin":17},{"year":2016.67,"rad":0.968,"bin":8},{"year":2016.73,"rad":0.972,"bin":2},{"year":2016.81,"rad":0.965,"bin":15},{"year":2016.59,"rad":0.976,"bin":6},{"year":2016.46,"rad":0.98,"bin":0},{"year":2016.53,"rad":0.985,"bin":10},{"year":2016.65,"rad":0.988,"bin":16},{"year":2016.75,"rad":0.982,"bin":3},{"year":2016.85,"rad":0.99,"bin":13},{"year":2016.91,"rad":0.978,"bin":9},{"year":2016.61,"rad":0.993,"bin":1},{"year":2016.39,"rad":0.997,"bin":14},{"year":2016.49,"rad":1.002,"bin":7},{"year":2016.57,"rad":0.999,"bin":0},{"year":2016.69,"rad":1.006,"bin":11},{"year":2016.79,"rad":0.995,"bin":4},{"year":2016.89,"rad":1.01,"bin":17},{"year":2016.96,"rad":1.001,"bin":2},{"year":2016.43,"rad":1.008,"bin":12},{"year":2016.71,"rad":0.996,"bin":9},{"year":2016.37,"rad":1.017,"bin":1},{"year":2016.47,"rad":1.024,"bin":15},{"year":2016.59,"rad":1.014,"bin":5},{"year":2016.67,"rad":1.029,"bin":0},{"year":2016.77,"rad":1.02,"bin":13},{"year":2016.87,"rad":1.026,"bin":8},{"year":2016.99,"rad":1.016,"bin":16},{"year":2016.53,"rad":1.031,"bin":3},{"year":2016.41,"rad":1.038,"bin":10},{"year":2016.56,"rad":1.044,"bin":0},{"year":2016.71,"rad":1.035,"bin":14},{"year":2016.83,"rad":1.042,"bin":6},{"year":2016.63,"rad":1.04,"bin":17},{"year":2016.49,"rad":1.052,"bin":2},{"year":2016.67,"rad":1.058,"bin":9},{"year":2016.15,"rad":1.0707,"bin":12},
{"year":2016.1,"rad":1.032,"bin":16},{"year":2016.18,"rad":1.022,"bin":3},{"year":2016.25,"rad":1.045,"bin":9},{"year":2016.3,"rad":1.012,"bin":0},{"year":2016.06,"rad":1.044,"bin":13},
{"year":2016.62,"rad":0.954,"bin":16},{"year":2016.7,"rad":0.958,"bin":1},{"year":2016.65,"rad":0.962,"bin":10},{"year":2016.72,"rad":0.966,"bin":0},{"year":2016.6,"rad":0.969,"bin":14},{"year":2016.76,"rad":0.973,"bin":5},{"year":2016.67,"rad":0.977,"bin":2},{"year":2016.58,"rad":0.981,"bin":12},{"year":2016.74,"rad":0.985,"bin":8},{"year":2016.69,"rad":0.99,"bin":0},
{"year":2016.51,"rad":0.967,"bin":9},{"year":2016.84,"rad":0.96,"bin":0},{"year":2016.79,"rad":0.953,"bin":14},{"year":2016.44,"rad":0.988,"bin":3},{"year":2016.27,"rad":0.992,"bin":11},
{"year":2017.64,"rad":0.945,"bin":14},{"year":2017.72,"rad":0.951,"bin":6},{"year":2017.78,"rad":0.957,"bin":1},{"year":2017.57,"rad":0.962,"bin":9},{"year":2017.68,"rad":0.966,"bin":16},{"year":2017.74,"rad":0.97,"bin":0},{"year":2017.82,"rad":0.963,"bin":11},{"year":2017.6,"rad":0.974,"bin":3},{"year":2017.47,"rad":0.978,"bin":13},{"year":2017.54,"rad":0.983,"bin":0},{"year":2017.66,"rad":0.986,"bin":8},{"year":2017.76,"rad":0.98,"bin":17},{"year":2017.86,"rad":0.988,"bin":4},{"year":2017.92,"rad":0.976,"bin":10},{"year":2017.62,"rad":0.991,"bin":2},{"year":2017.4,"rad":0.995,"bin":15},{"year":2017.5,"rad":1.0,"bin":9},{"year":2017.58,"rad":0.997,"bin":0},{"year":2017.7,"rad":1.004,"bin":12},{"year":2017.8,"rad":0.993,"bin":6},{"year":2017.9,"rad":1.008,"bin":1},{"year":2017.97,"rad":0.999,"bin":16},{"year":2017.44,"rad":1.006,"bin":3},{"year":2017.72,"rad":0.994,"bin":14},{"year":2017.38,"rad":1.015,"bin":8},{"year":2017.48,"rad":1.022,"bin":0},{"year":2017.6,"rad":1.012,"bin":10},{"year":2017.68,"rad":1.027,"bin":17},{"year":2017.78,"rad":1.018,"bin":2},{"year":2017.88,"rad":1.024,"bin":12},{"year":2018.0,"rad":1.014,"bin":5},{"year":2017.54,"rad":1.029,"bin":1},{"year":2017.42,"rad":1.036,"bin":15},{"year":2017.57,"rad":1.042,"bin":9},{"year":2017.72,"rad":1.033,"bin":0},{"year":2017.84,"rad":1.04,"bin":13},{"year":2017.64,"rad":1.038,"bin":7},{"year":2017.5,"rad":1.05,"bin":16},{"year":2017.68,"rad":1.059,"bin":3},{"year":2017.87,"rad":1.048,"bin":11},
{"year":2017.07,"rad":1.027,"bin":10},{"year":2017.15,"rad":1.019,"bin":0},{"year":2017.22,"rad":1.049,"bin":5},{"year":2017.28,"rad":1.009,"bin":14},{"year":2017.11,"rad":1.04,"bin":2},
{"year":2017.63,"rad":0.955,"bin":3},{"year":2017.71,"rad":0.959,"bin":12},{"year":2017.66,"rad":0.963,"bin":0},{"year":2017.73,"rad":0.966,"bin":17},{"year":2017.61,"rad":0.97,"bin":6},{"year":2017.77,"rad":0.974,"bin":14},{"year":2017.68,"rad":0.978,"bin":1},{"year":2017.59,"rad":0.982,"bin":9},{"year":2017.75,"rad":0.986,"bin":15},{"year":2017.7,"rad":0.99,"bin":2},
{"year":2017.52,"rad":0.961,"bin":16},{"year":2017.85,"rad":0.968,"bin":1},{"year":2017.8,"rad":0.952,"bin":10},{"year":2017.45,"rad":0.986,"bin":0},{"year":2017.31,"rad":0.985,"bin":13},
{"year":2018.62,"rad":0.943,"bin":0},{"year":2018.7,"rad":0.952,"bin":15},{"year":2018.76,"rad":0.958,"bin":8},{"year":2018.55,"rad":0.963,"bin":2},{"year":2018.66,"rad":0.967,"bin":12},{"year":2018.72,"rad":0.971,"bin":5},{"year":2018.8,"rad":0.964,"bin":17},{"year":2018.58,"rad":0.975,"bin":1},{"year":2018.45,"rad":0.979,"bin":10},{"year":2018.52,"rad":0.984,"bin":16},{"year":2018.64,"rad":0.987,"bin":0},{"year":2018.74,"rad":0.981,"bin":9},{"year":2018.84,"rad":0.989,"bin":14},{"year":2018.9,"rad":0.977,"bin":3},{"year":2018.6,"rad":0.992,"bin":11},{"year":2018.38,"rad":0.996,"bin":6},{"year":2018.48,"rad":1.001,"bin":17},{"year":2018.56,"rad":0.998,"bin":1},{"year":2018.68,"rad":1.005,"bin":9},{"year":2018.78,"rad":0.994,"bin":15},{"year":2018.88,"rad":1.009,"bin":0},{"year":2018.95,"rad":1.0,"bin":12},{"year":2018.42,"rad":1.007,"bin":4},{"year":2018.7,"rad":0.995,"bin":16},{"year":2018.36,"rad":1.016,"bin":2},{"year":2018.46,"rad":1.023,"bin":11},{"year":2018.58,"rad":1.013,"bin":0},{"year":2018.66,"rad":1.028,"bin":14},{"year":2018.76,"rad":1.019,"bin":7},{"year":2018.86,"rad":1.025,"bin":1},{"year":2018.98,"rad":1.015,"bin":17},{"year":2018.52,"rad":1.03,"bin":10},{"year":2018.4,"rad":1.037,"bin":4},{"year":2018.55,"rad":1.043,"bin":15},{"year":2018.7,"rad":1.034,"bin":2},{"year":2018.82,"rad":1.041,"bin":8},{"year":2018.62,"rad":1.039,"bin":0},{"year":2018.48,"rad":1.051,"bin":13},{"year":2018.66,"rad":1.055,"bin":6},{"year":2018.25,"rad":1.0776,"bin":13},
{"year":2018.09,"rad":1.03,"bin":6},{"year":2018.17,"rad":1.02,"bin":12},{"year":2018.24,"rad":1.046,"bin":1},{"year":2018.3,"rad":1.011,"bin":16},{"year":2018.13,"rad":1.042,"bin":8},
{"year":2018.61,"rad":0.953,"bin":13},{"year":2018.69,"rad":0.957,"bin":1},{"year":2018.64,"rad":0.961,"bin":5},{"year":2018.71,"rad":0.965,"bin":16},{"year":2018.59,"rad":0.968,"bin":0},{"year":2018.75,"rad":0.972,"bin":11},{"year":2018.66,"rad":0.977,"bin":3},{"year":2018.57,"rad":0.981,"bin":14},{"year":2018.73,"rad":0.984,"bin":6},{"year":2018.68,"rad":0.989,"bin":17},
{"year":2018.5,"rad":0.966,"bin":2},{"year":2018.83,"rad":0.958,"bin":15},{"year":2018.78,"rad":0.949,"bin":0},{"year":2018.43,"rad":0.987,"bin":8},{"year":2018.28,"rad":0.99,"bin":16},
{"year":2019.64,"rad":0.946,"bin":10},{"year":2019.72,"rad":0.953,"bin":3},{"year":2019.78,"rad":0.96,"bin":16},{"year":2019.57,"rad":0.962,"bin":0},{"year":2019.68,"rad":0.966,"bin":9},{"year":2019.74,"rad":0.97,"bin":14},{"year":2019.82,"rad":0.965,"bin":1},{"year":2019.6,"rad":0.974,"bin":12},{"year":2019.47,"rad":0.978,"bin":7},{"year":2019.54,"rad":0.983,"bin":0},{"year":2019.66,"rad":0.986,"bin":17},{"year":2019.76,"rad":0.98,"bin":4},{"year":2019.86,"rad":0.988,"bin":10},{"year":2019.92,"rad":0.976,"bin":15},{"year":2019.62,"rad":0.99,"bin":2},{"year":2019.4,"rad":0.995,"bin":8},{"year":2019.5,"rad":1.0,"bin":13},{"year":2019.58,"rad":0.997,"bin":0},{"year":2019.7,"rad":1.004,"bin":16},{"year":2019.8,"rad":0.993,"bin":6},{"year":2019.9,"rad":1.008,"bin":11},{"year":2019.97,"rad":0.999,"bin":1},{"year":2019.44,"rad":1.006,"bin":14},{"year":2019.72,"rad":0.994,"bin":3},{"year":2019.38,"rad":1.015,"bin":9},{"year":2019.48,"rad":1.022,"bin":17},{"year":2019.6,"rad":1.012,"bin":1},{"year":2019.68,"rad":1.027,"bin":12},{"year":2019.78,"rad":1.018,"bin":0},{"year":2019.88,"rad":1.024,"bin":6},{"year":2020.0,"rad":1.014,"bin":15},{"year":2019.54,"rad":1.029,"bin":2},{"year":2019.42,"rad":1.036,"bin":11},{"year":2019.57,"rad":1.042,"bin":0},{"year":2019.72,"rad":1.033,"bin":16},{"year":2019.84,"rad":1.04,"bin":8},{"year":2019.64,"rad":1.038,"bin":4},{"year":2019.5,"rad":1.05,"bin":14},{"year":2019.68,"rad":1.058,"bin":1},{"year":2019.03,"rad":1.082,"bin":9},
{"year":2019.08,"rad":1.028,"bin":0},{"year":2019.16,"rad":1.018,"bin":14},{"year":2019.23,"rad":1.052,"bin":10},{"year":2019.29,"rad":1.01,"bin":3},{"year":2019.12,"rad":1.039,"bin":17},
{"year":2019.63,"rad":0.956,"bin":1},{"year":2019.71,"rad":0.959,"bin":16},{"year":2019.66,"rad":0.963,"bin":6},{"year":2019.73,"rad":0.967,"bin":0},{"year":2019.61,"rad":0.97,"bin":13},{"year":2019.77,"rad":0.975,"bin":2},{"year":2019.68,"rad":0.979,"bin":10},{"year":2019.6,"rad":0.983,"bin":15},{"year":2019.75,"rad":0.986,"bin":0},{"year":2019.71,"rad":0.991,"bin":8},
{"year":2019.53,"rad":0.96,"bin":11},{"year":2019.86,"rad":0.97,"bin":0},{"year":2019.81,"rad":0.955,"bin":17},{"year":2019.46,"rad":0.988,"bin":4},{"year":2019.33,"rad":0.984,"bin":9},
{"year":2020.63,"rad":0.944,"bin":17},{"year":2020.71,"rad":0.951,"bin":8},{"year":2020.77,"rad":0.957,"bin":2},{"year":2020.56,"rad":0.963,"bin":13},{"year":2020.67,"rad":0.967,"bin":0},{"year":2020.73,"rad":0.971,"bin":10},{"year":2020.81,"rad":0.963,"bin":5},{"year":2020.59,"rad":0.975,"bin":16},{"year":2020.46,"rad":0.979,"bin":1},{"year":2020.53,"rad":0.984,"bin":12},{"year":2020.65,"rad":0.987,"bin":7},{"year":2020.75,"rad":0.981,"bin":0},{"year":2020.85,"rad":0.989,"bin":15},{"year":2020.91,"rad":0.977,"bin":9},{"year":2020.61,"rad":0.991,"bin":3},{"year":2020.39,"rad":0.996,"bin":17},{"year":2020.49,"rad":1.001,"bin":0},{"year":2020.57,"rad":0.998,"bin":11},{"year":2020.69,"rad":1.005,"bin":14},{"year":2020.79,"rad":0.994,"bin":2},{"year":2020.89,"rad":1.009,"bin":8},{"year":2020.96,"rad":1.0,"bin":16},{"year":2020.43,"rad":1.007,"bin":1},{"year":2020.71,"rad":0.995,"bin":13},{"year":2020.37,"rad":1.016,"bin":5},{"year":2020.47,"rad":1.023,"bin":0},{"year":2020.59,"rad":1.013,"bin":15},{"year":2020.67,"rad":1.028,"bin":9},{"year":2020.77,"rad":1.019,"bin":3},{"year":2020.87,"rad":1.025,"bin":17},{"year":2020.99,"rad":1.015,"bin":10},{"year":2020.53,"rad":1.03,"bin":0},{"year":2020.41,"rad":1.037,"bin":12},{"year":2020.56,"rad":1.043,"bin":6},{"year":2020.71,"rad":1.034,"bin":1},{"year":2020.83,"rad":1.041,"bin":16},{"year":2020.63,"rad":1.039,"bin":9},{"year":2020.49,"rad":1.051,"bin":4},{"year":2020.67,"rad":1.063,"bin":11},{"year":2020.86,"rad":1.048,"bin":0},
{"year":2020.1,"rad":1.031,"bin":9},{"year":2020.18,"rad":1.021,"bin":1},{"year":2020.25,"rad":1.048,"bin":13},{"year":2020.3,"rad":1.012,"bin":6},{"year":2020.14,"rad":1.043,"bin":0},
{"year":2020.62,"rad":0.954,"bin":4},{"year":2020.7,"rad":0.958,"bin":13},{"year":2020.65,"rad":0.962,"bin":0},{"year":2020.72,"rad":0.966,"bin":15},{"year":2020.6,"rad":0.969,"bin":1},{"year":2020.76,"rad":0.973,"bin":10},{"year":2020.67,"rad":0.977,"bin":16},{"year":2020.58,"rad":0.981,"bin":3},{"year":2020.74,"rad":0.985,"bin":12},{"year":2020.69,"rad":0.99,"bin":0},
{"year":2020.51,"rad":0.965,"bin":14},{"year":2020.84,"rad":0.959,"bin":2},{"year":2020.79,"rad":0.95,"bin":12},{"year":2020.44,"rad":0.987,"bin":0},{"year":2020.27,"rad":0.99,"bin":7},
{"year":2021.65,"rad":0.945,"bin":1},{"year":2021.73,"rad":0.952,"bin":16},{"year":2021.79,"rad":0.959,"bin":9},{"year":2021.58,"rad":0.964,"bin":0},{"year":2021.69,"rad":0.968,"bin":12},{"year":2021.75,"rad":0.972,"bin":3},{"year":2021.83,"rad":0.965,"bin":15},{"year":2021.61,"rad":0.976,"bin":8},{"year":2021.48,"rad":0.98,"bin":0},{"year":2021.55,"rad":0.985,"bin":17},{"year":2021.67,"rad":0.988,"bin":5},{"year":2021.77,"rad":0.982,"bin":11},{"year":2021.87,"rad":0.99,"bin":1},{"year":2021.93,"rad":0.978,"bin":14},{"year":2021.63,"rad":0.993,"bin":7},{"year":2021.41,"rad":0.997,"bin":0},{"year":2021.51,"rad":1.002,"bin":13},{"year":2021.59,"rad":0.999,"bin":2},{"year":2021.71,"rad":1.006,"bin":16},{"year":2021.81,"rad":0.995,"bin":9},{"year":2021.91,"rad":1.01,"bin":4},{"year":2021.95,"rad":1.001,"bin":15},{"year":2021.45,"rad":1.008,"bin":0},{"year":2021.73,"rad":0.996,"bin":10},{"year":2021.39,"rad":1.017,"bin":17},{"year":2021.49,"rad":1.024,"bin":6},{"year":2021.61,"rad":1.014,"bin":1},{"year":2021.69,"rad":1.029,"bin":12},{"year":2021.79,"rad":1.02,"bin":0},{"year":2021.89,"rad":1.026,"bin":14},{"year":2021.93,"rad":1.016,"bin":8},{"year":2021.55,"rad":1.031,"bin":3},{"year":2021.43,"rad":1.038,"bin":16},{"year":2021.58,"rad":1.044,"bin":9},{"year":2021.73,"rad":1.035,"bin":0},{"year":2021.85,"rad":1.042,"bin":11},{"year":2021.65,"rad":1.04,"bin":5},{"year":2021.51,"rad":1.052,"bin":15},{"year":2021.69,"rad":1.065,"bin":2},{"year":2021.4,"rad":1.0776,"bin":10},
{"year":2021.08,"rad":1.029,"bin":12},{"year":2021.16,"rad":1.019,"bin":4},{"year":2021.23,"rad":1.055,"bin":16},{"year":2021.29,"rad":1.01,"bin":0},{"year":2021.12,"rad":1.041,"bin":7},
{"year":2021.64,"rad":0.955,"bin":14},{"year":2021.72,"rad":0.959,"bin":0},{"year":2021.67,"rad":0.962,"bin":11},{"year":2021.74,"rad":0.966,"bin":3},{"year":2021.62,"rad":0.97,"bin":16},{"year":2021.78,"rad":0.974,"bin":1},{"year":2021.69,"rad":0.978,"bin":9},{"year":2021.6,"rad":0.982,"bin":13},{"year":2021.76,"rad":0.986,"bin":5},{"year":2021.72,"rad":0.99,"bin":15},
{"year":2021.53,"rad":0.959,"bin":0},{"year":2021.86,"rad":0.969,"bin":16},{"year":2021.81,"rad":0.954,"bin":5},{"year":2021.46,"rad":0.986,"bin":13},{"year":2021.33,"rad":0.985,"bin":1}
                  ]},
                  "mark": {"type": "point", "shape": "circle", "filled": false, "size": 22, "strokeWidth": 1, "opacity": 1},
                  "encoding": {
                    "x": {"field": "year", "type": "quantitative",
                      "scale": {"domain": [2002, 2022], "nice": false, "zero": false},
                      "axis": {
                        "title": "YEAR", "titleFont": "DejaVu Sans", "titleFontSize": 17, "titleFontWeight": "normal",
                        "titleBaseline": "alphabetic", "titleY": 48,
                        "values": [2002,2002.25,2002.5,2002.75,2003,2003.25,2003.5,2003.75,2004,2004.25,2004.5,2004.75,2005,2005.25,2005.5,2005.75,2006,2006.25,2006.5,2006.75,2007,2007.25,2007.5,2007.75,2008,2008.25,2008.5,2008.75,2009,2009.25,2009.5,2009.75,2010,2010.25,2010.5,2010.75,2011,2011.25,2011.5,2011.75,2012,2012.25,2012.5,2012.75,2013,2013.25,2013.5,2013.75,2014,2014.25,2014.5,2014.75,2015,2015.25,2015.5,2015.75,2016,2016.25,2016.5,2016.75,2017,2017.25,2017.5,2017.75,2018,2018.25,2018.5,2018.75,2019,2019.25,2019.5,2019.75,2020,2020.25,2020.5,2020.75,2021,2021.25,2021.5,2021.75,2022],
                        "labelExpr": "datum.value % 4 == 2 ? format(datum.value, 'd') : ''",
                        "tickSize": {"condition": {"test": "datum.value % 4 == 2", "value": 8}, "value": 4},
                        "labelOverlap": false, "labelFlush": false
                      }},
                    "y": {"field": "rad", "type": "quantitative",
                      "scale": {"domain": [0.9, 1.1], "nice": false, "zero": false},
                      "axis": {
                        "title": "normalized SW radiance", "titleFont": "Open Sans", "titleFontSize": 25, "titleFontWeight": "normal",
                        "titleBaseline": "alphabetic", "titleX": -78, "titleY": 212,
                        "values": [0.9, 0.925, 0.95, 0.975, 1.0, 1.025, 1.05, 1.075, 1.1],
                        "labelExpr": "abs(datum.value * 20 - round(datum.value * 20)) < 0.001 ? format(datum.value, '.2f') : ''",
                        "tickSize": {"condition": {"test": "abs(datum.value * 20 - round(datum.value * 20)) < 0.001", "value": 8}, "value": 4},
                        "labelOverlap": false, "labelFlush": false
                      }},
                    "color": {"field": "bin", "type": "ordinal",
                      "scale": {"domain": [0,1,2,3,4,5,6,7,8,9,10,11,12,13,14,15,16,17],
                        "range": ["#0000ff","#0018e8","#0030d0","#0a50b0","#0a7090","#009878","#00b060","#00c848","#00e030","#10ff10","#30e010","#50c000","#70a000","#888000","#a06000","#c04000","#e02000","#ff0000"]},
                      "legend": {
                        "orient": "none", "legendX": 441, "legendY": 13, "zindex": 2,
                        "direction": "horizontal", "columns": 18,
                        "symbolType": "square", "symbolSize": 9, "symbolStrokeWidth": 6.5, "symbolOpacity": 1,
                        "labelExpr": "''", "labelOffset": 0, "labelFontSize": 1, "columnPadding": -24,
                        "title": "Back Scatter\u00a0\u00a0\u00a0\u00a0\u00a0\u00a0\u00a0\u00a0\u00a0\u00a0\u00a0\u00a0\u00a0\u00a0Forward Scatter",
                        "titleFont": "DejaVu Sans", "titleFontSize": 10.5, "titleFontWeight": "normal", "titleColor": "#222", "titlePadding": 3, "titleLimit": 400,
                        "padding": 0
                      }}
                  }
                },
                {
                  "data": {"values": [{}]},
                  "mark": {"type": "rule", "color": "black", "strokeWidth": 1.2, "strokeDash": [2, 2]},
                  "encoding": {"y": {"datum": 1.0, "type": "quantitative"}}
                },
                {
                  "data": {"values": [{"year": 2002.53, "rad": 1.004}, {"year": 2021.74, "rad": 0.99716}]},
                  "mark": {"type": "line", "color": "black", "strokeWidth": 1.6},
                  "encoding": {"x": {"field": "year", "type": "quantitative"}, "y": {"field": "rad", "type": "quantitative"}}
                },
                {
                  "data": {"values": [{"text": "MIN\nMAX\nNUM_INVALID"}]},
                  "mark": {"type": "text", "font": "DejaVu Sans", "fontSize": 12, "color": "#222", "align": "left", "baseline": "alphabetic", "lineBreak": "\n", "lineHeight": 13.5},
                  "encoding": {"x": {"datum": 2002.3, "type": "quantitative"}, "y": {"datum": 0.91821, "type": "quantitative"}, "text": {"field": "text"}}
                },
                {
                  "data": {"values": [{"text": "0.9367\n1.0820\n0"}]},
                  "mark": {"type": "text", "font": "DejaVu Sans", "fontSize": 12, "color": "#222", "align": "right", "baseline": "alphabetic", "lineBreak": "\n", "lineHeight": 13.5},
                  "encoding": {"x": {"datum": 2006.578, "type": "quantitative"}, "y": {"datum": 0.91821, "type": "quantitative"}, "text": {"field": "text"}}
                },
                {
                  "data": {"values": [{"text": "STDerr%\nNUM\nMEAN"}]},
                  "mark": {"type": "text", "font": "DejaVu Sans", "fontSize": 12, "color": "#222", "align": "left", "baseline": "alphabetic", "lineBreak": "\n", "lineHeight": 13.5},
                  "encoding": {"x": {"datum": 2013.857, "type": "quantitative"}, "y": {"datum": 0.91821, "type": "quantitative"}, "text": {"field": "text"}}
                },
                {
                  "data": {"values": [{"text": "2.3901\n3459\n1.0000"}]},
                  "mark": {"type": "text", "font": "DejaVu Sans", "fontSize": 12, "color": "#222", "align": "right", "baseline": "alphabetic", "lineBreak": "\n", "lineHeight": 13.5},
                  "encoding": {"x": {"datum": 2021.437, "type": "quantitative"}, "y": {"datum": 0.91821, "type": "quantitative"}, "text": {"field": "text"}}
                },
                {
                  "data": {"values": [{}]},
                  "mark": {"type": "rect", "color": "white", "opacity": 1},
                  "encoding": {
                    "x": {"datum": 2002.788, "type": "quantitative"}, "x2": {"datum": 2023.87},
                    "y": {"datum": 0.95522, "type": "quantitative"}, "y2": {"datum": 0.92687}
                  }
                },
                {
                  "data": {"values": [
                    {"x1": 2002.788, "x2": 2023.87, "y1": 0.95522, "y2": 0.95522},
                    {"x1": 2002.788, "x2": 2023.87, "y1": 0.92687, "y2": 0.92687},
                    {"x1": 2002.788, "x2": 2002.788, "y1": 0.95522, "y2": 0.92687}
                  ]},
                  "mark": {"type": "rule", "color": "black", "strokeWidth": 2},
                  "encoding": {
                    "x": {"field": "x1", "type": "quantitative"}, "x2": {"field": "x2"},
                    "y": {"field": "y1", "type": "quantitative"}, "y2": {"field": "y2"}
                  }
                },
                {
                  "data": {"values": [
                    {"piece": "Rad", "shift": 0},
                    {"piece": "=\u00a0a", "shift": 96.8},
                    {"piece": "+\u00a0a", "shift": 155.1},
                    {"piece": "*cos(SZA)\u00a0+\u00a0a", "shift": 205.4},
                    {"piece": "*cos(SZA)", "shift": 401.9}
                  ]},
                  "mark": {"type": "text", "font": "Liberation Serif", "fontSize": 31.5, "color": "black", "align": "left", "baseline": "alphabetic"},
                  "encoding": {"x": {"datum": 2003.5, "type": "quantitative"}, "y": {"datum": 0.93532, "type": "quantitative"}, "text": {"field": "piece"}, "xOffset": {"field": "shift", "type": "quantitative", "scale": null}}
                },
                {
                  "data": {"values": [
                    {"piece": "mod", "shift": 50.7},
                    {"piece": "0", "shift": 136.4},
                    {"piece": "1", "shift": 194.7},
                    {"piece": "2", "shift": 391.1}
                  ]},
                  "mark": {"type": "text", "font": "Liberation Serif", "fontSize": 21.5, "color": "black", "align": "left", "baseline": "alphabetic", "dy": 5},
                  "encoding": {"x": {"datum": 2003.5, "type": "quantitative"}, "y": {"datum": 0.93532, "type": "quantitative"}, "text": {"field": "piece"}, "xOffset": {"field": "shift", "type": "quantitative", "scale": null}}
                },
                {
                  "data": {"values": [{"caption": "daily observations"}]},
                  "mark": {"type": "text", "font": "Open Sans", "fontSize": 31.5, "color": "black", "align": "left", "baseline": "alphabetic"},
                  "encoding": {"x": {"datum": 2003.05, "type": "quantitative"}, "y": {"datum": 1.07761, "type": "quantitative"}, "text": {"field": "caption"}}
                }
              ]
            }
          ]
        }
      ]
    }
  ]
}
